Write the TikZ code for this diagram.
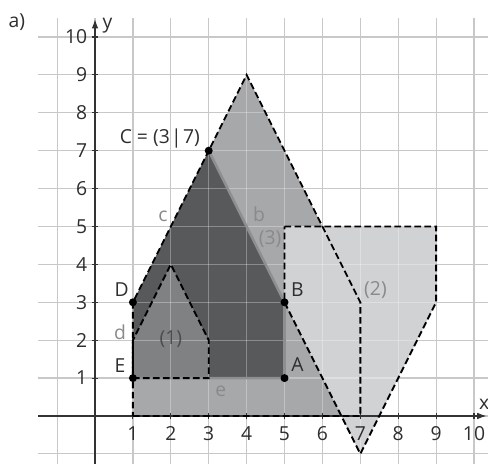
\documentclass[tikz,border=0pt]{standalone}
\usepackage{fontspec}
\setmainfont{Open Sans}
\usetikzlibrary{arrows.meta}
\definecolor{gridc}{HTML}{C8C8C8}
\definecolor{darkf}{HTML}{58595B}
\definecolor{medf}{HTML}{A7A8AA}
\definecolor{lightf}{HTML}{D1D2D4}
\definecolor{onef}{HTML}{808183}
\definecolor{edgec}{HTML}{8E8F91}
\definecolor{labc}{HTML}{8A8A8C}
\definecolor{axc}{HTML}{333333}
\definecolor{txtc}{HTML}{2E2E2E}
\tikzset{
  gridline/.style={gridc, line width=0.9pt},
  overgrid/.style={white, opacity=0.3, line width=0.9pt},
  outline/.style={black, line width=1.4pt, dash pattern=on 5pt off 2.5pt, line join=miter},
  pentedge/.style={edgec, line width=2pt, line cap=round},
  axisline/.style={axc, line width=0.9pt},
  tickline/.style={axc, line width=0.8pt},
  ticklab/.style={txtc, inner sep=0pt},
  ptlab/.style={txtc, inner sep=0pt},
  sidelab/.style={labc, inner sep=0pt},
  dot/.style={circle, fill=black, inner sep=0pt, minimum size=6pt},
}
\begin{document}
\begin{tikzpicture}[font=\fontsize{14.5}{17}\selectfont]
\useasboundingbox (-2.507,-1.266) rectangle (10.369,10.976);
% grid
\foreach \x in {-1,...,10} \draw[gridline] (\x,-1.3) -- (\x,10.5);
\foreach \y in {-1,...,10} \draw[gridline] (-1.5,\y) -- (10.4,\y);
% vertices
\coordinate (A) at (5,1);
\coordinate (B) at (5,3);
\coordinate (C) at (3,7);
\coordinate (D) at (1,3);
\coordinate (E) at (1,1);
% big shape (3)
\coordinate (g1) at (1,0); \coordinate (g2) at (7,0); \coordinate (g3) at (7,3); \coordinate (g4) at (4,9);
% shape (2)
\coordinate (h1) at (5,5); \coordinate (h2) at (9,5); \coordinate (h3) at (9,3); \coordinate (h4) at (7,-1);
% shape (1)
\coordinate (k1) at (3,1); \coordinate (k2) at (3,2); \coordinate (k3) at (2,4); \coordinate (k4) at (1,2);
% fills
\fill[medf] (g1) -- (g2) -- (g3) -- (g4) -- (D) -- cycle;
\fill[lightf] (h1) -- (h2) -- (h3) -- (h4) -- (B) -- cycle;
\fill[darkf] (A) -- (B) -- (C) -- (D) -- (E) -- cycle;
\fill[onef] (E) -- (k1) -- (k2) -- (k3) -- (k4) -- cycle;
% grid seen through fills
\begin{scope}
\clip (g1) -- (g2) -- (g3) -- (g4) -- (D) -- cycle (B) -- (h4) -- (h3) -- (h2) -- (h1) -- cycle;
\foreach \x in {-1,...,10} \draw[overgrid] (\x,-1.3) -- (\x,10.5);
\foreach \y in {-1,...,10} \draw[overgrid] (-1.5,\y) -- (10.4,\y);
\end{scope}
% pentagon edges
\draw[pentedge] (C) -- (B) -- (A) -- (E);
% axes
\draw[axisline, -{Latex[length=7pt,width=5pt]}] (-1.5,0) -- (10.33,0);
\draw[axisline, -{Latex[length=7pt,width=5pt]}] (0,-1.3) -- (0,10.47);
\foreach \i in {1,...,10} {
  \draw[tickline] (\i,-0.08) -- (\i,0.08);
  \draw[tickline] (-0.08,\i) -- (0.08,\i);
  \node[ticklab] (xl\i) at (\i,-0.47) {\i};
  \node[ticklab, anchor=east] (yl\i) at (-0.2,\i) {\i};
}
\node[ticklab] (xlab) at (10.27,0.32) {x};
\node[ticklab] (ylab) at (0.33,10.3) {y};
% dashed outlines
\draw[outline] (g1) -- (g2) -- (g3) -- (g4) -- (D) -- cycle;
\draw[outline] (h1) -- (h2) -- (h3) -- (h4) -- (B) -- cycle;
\draw[outline] (E) -- (k1) -- (k2) -- (k3) -- (k4) -- cycle;
% points
\foreach \p in {A,B,C,D,E} \node[dot] (dot\p) at (\p) {};
% labels
\node[ptlab] (la) at (-2.06,10.40) {a)};
\node[ptlab] (lC) at (1.71,7.33) {C = (3\kern1pt|\kern1pt7)};
\node[ptlab] (lD) at (0.70,3.34) {D};
\node[ptlab] (lE) at (0.66,1.33) {E};
\node[ptlab] (lB) at (5.34,3.34) {B};
\node[ptlab] (lA) at (5.34,1.36) {A};
\node[sidelab] (lb) at (4.33,5.32) {b};
\node[sidelab] (lc) at (1.79,5.28) {c};
\node[sidelab] (ld) at (0.66,2.22) {d};
\node[sidelab] (le) at (3.32,0.66) {e};
\node[sidelab] (l3) at (4.62,4.68) {(3)};
\node[sidelab] (l2) at (7.40,3.32) {(2)};
\node[ptlab, text=black!70] (l1) at (2.0,2.03) {(1)};
\end{tikzpicture}
\end{document}
